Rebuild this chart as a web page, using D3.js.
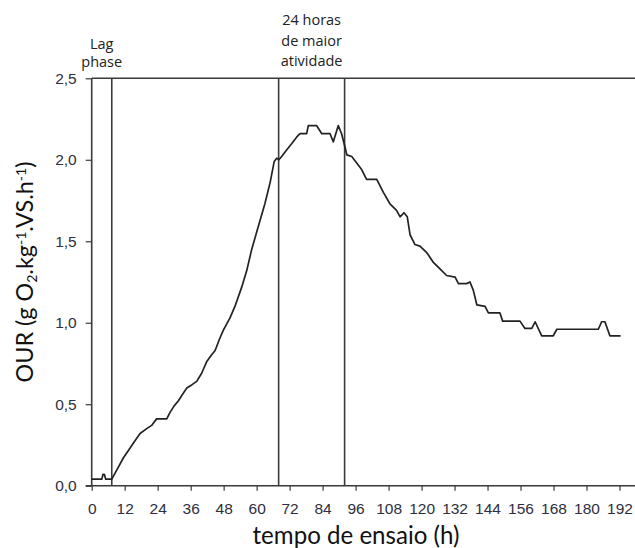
<!DOCTYPE html>
<html>
<head>
<meta charset="utf-8">
<script src="https://cdn.jsdelivr.net/npm/d3@7"></script>
<style>
  html, body { margin: 0; padding: 0; background: #fff; }
  svg { display: block; }
</style>
</head>
<body>
<svg id="chart" width="635" height="548"></svg>
<script>
// ---- data (hours, OUR) ----
const hours = [0, 3.7, 4.1, 4.6, 5.1, 7.3, 9.1, 11.5, 13.9, 15.5, 17.6, 20, 21.8, 23.6, 27.3, 28.5, 30, 31.5, 33, 34.6, 36.5, 38.2, 40, 41.8, 43.5, 44.9, 46.5, 47.9, 50.3, 52.1, 54.6, 56.4, 58.2, 60.6, 63.0, 64.9, 66.4, 67.3, 68.1, 69.1, 70.9, 72.8, 74.6, 75.8, 78.2, 78.8, 81.8, 83.7, 86.7, 87.9, 89.7, 90.9, 92.4, 92.8, 94.6, 96.4, 98.2, 100, 103.7, 106.1, 108.5, 110.9, 112.2, 113.6, 114.8, 115.8, 117.6, 119.4, 121.9, 124.3, 126.7, 129.1, 132.2, 133.4, 136.4, 137.6, 138.8, 140.1, 143.1, 144.3, 148.5, 149.5, 155.8, 157.6, 160.1, 161.3, 163.7, 167.9, 169.2, 184.3, 185.5, 186.7, 188.5, 192.4];
const our = [0.04, 0.04, 0.07, 0.07, 0.04, 0.04, 0.096, 0.17, 0.23, 0.27, 0.32, 0.35, 0.37, 0.41, 0.41, 0.45, 0.49, 0.52, 0.56, 0.60, 0.62, 0.64, 0.69, 0.76, 0.80, 0.83, 0.90, 0.955, 1.03, 1.10, 1.22, 1.32, 1.45, 1.59, 1.73, 1.86, 1.99, 2.01, 2.00, 2.02, 2.06, 2.10, 2.14, 2.16, 2.16, 2.21, 2.21, 2.16, 2.16, 2.11, 2.21, 2.16, 2.06, 2.03, 2.02, 1.98, 1.94, 1.88, 1.88, 1.80, 1.73, 1.69, 1.65, 1.675, 1.65, 1.54, 1.48, 1.47, 1.43, 1.37, 1.33, 1.29, 1.28, 1.24, 1.24, 1.25, 1.20, 1.11, 1.10, 1.06, 1.06, 1.01, 1.01, 0.965, 0.965, 1.006, 0.92, 0.92, 0.96, 0.96, 1.006, 1.006, 0.92, 0.92];
const xTicks = [0, 12, 24, 36, 48, 60, 72, 84, 96, 108, 120, 132, 144, 156, 168, 180, 192];
const yTicks = [0, 0.5, 1.0, 1.5, 2.0, 2.5];
const markerHours = [0, 7.3, 68, 92];
const lagLabel = ["Lag", "phase"];
const peakLabel = ["24 horas", "de maior", "atividade"];
const xTitle = "tempo de ensaio (h)";

// ---- layout ----
const svg = d3.select("#chart");
const W = 635;
const x = d3.scaleLinear().domain([0, 192]).range([91.7, 619.5]);
const y = d3.scaleLinear().domain([0, 2.5]).range([485.7, 78.3]);
const ink = "#3a3a3a";
const tickFont = "'Liberation Sans', Arial, sans-serif";
const annFontFam = "'Open Sans', 'Noto Sans', sans-serif";
const titleFont = "Lato, 'Open Sans', sans-serif";

// axis lines
svg.append("line").attr("x1", x(0) - 6).attr("x2", W).attr("y1", y(0)).attr("y2", y(0))
  .attr("stroke", ink).attr("stroke-width", 1.6);
svg.append("line").attr("x1", x(0)).attr("x2", W).attr("y1", y(2.5)).attr("y2", y(2.5))
  .attr("stroke", ink).attr("stroke-width", 1.6);

// vertical markers
svg.selectAll("line.marker").data(markerHours).join("line")
  .attr("class", "marker")
  .attr("x1", d => x(d)).attr("x2", d => x(d))
  .attr("y1", y(2.5)).attr("y2", y(0))
  .attr("stroke", ink).attr("stroke-width", 1.6);

// x axis
const xAxis = d3.axisBottom(x).tickValues(xTicks).tickSize(5).tickPadding(12)
  .tickFormat(d => String(d));
const gx = svg.append("g").attr("transform", `translate(0,${y(0)})`).call(xAxis);
gx.select(".domain").remove();
gx.selectAll(".tick line").attr("stroke", ink).attr("stroke-width", 1.2);
gx.selectAll(".tick text").attr("fill", "#2e2e40").attr("font-family", tickFont)
  .attr("font-size", 15.5);

// y axis
const yAxis = d3.axisLeft(y).tickValues(yTicks).tickSize(6).tickPadding(9)
  .tickFormat(d => d3.format(".1f")(d).replace(".", ","));
const gy = svg.append("g").attr("transform", `translate(${x(0)},0)`).call(yAxis);
gy.select(".domain").remove();
gy.selectAll(".tick line").attr("stroke", ink).attr("stroke-width", 1.2);
gy.selectAll(".tick text").attr("fill", "#2e2e40").attr("font-family", tickFont)
  .attr("font-size", 15.5);

// curve
const pts = hours.map((h, i) => [h, our[i]]);
svg.append("path").datum(pts)
  .attr("fill", "none").attr("stroke", "#222").attr("stroke-width", 1.7)
  .attr("stroke-linejoin", "round")
  .attr("d", d3.line().x(d => x(d[0])).y(d => y(d[1])));

// annotations
const annFont = 14.5;
svg.append("text").attr("x", (x(0) + x(7.3)) / 2).attr("y", 49)
  .attr("text-anchor", "middle").attr("font-family", annFontFam).attr("font-size", annFont)
  .attr("fill", "#222")
  .selectAll("tspan").data(lagLabel).join("tspan")
  .attr("x", (x(0) + x(7.3)) / 2).attr("dy", (d, i) => i === 0 ? 0 : 18).text(d => d);

svg.append("text").attr("x", (x(68) + x(92)) / 2).attr("y", 25)
  .attr("text-anchor", "middle").attr("font-family", annFontFam).attr("font-size", annFont)
  .attr("fill", "#222")
  .selectAll("tspan").data(peakLabel).join("tspan")
  .attr("x", (x(68) + x(92)) / 2).attr("dy", (d, i) => i === 0 ? 0 : 20.5).text(d => d);

// helper: fit a text element to a target width
function fitWidth(sel, target) {
  const fs = +sel.attr("font-size");
  const w = sel.node().getComputedTextLength();
  if (w > 0) sel.attr("font-size", (fs * target / w).toFixed(2));
}

// x title
const xt = svg.append("text").attr("x", 356).attr("y", 544).attr("text-anchor", "middle")
  .attr("font-family", titleFont).attr("font-size", 21).attr("fill", "#111")
  .text(xTitle);
fitWidth(xt, 207);

// y title with sub/superscripts
const yt = svg.append("text").attr("transform", "translate(33,272) rotate(-90)")
  .attr("text-anchor", "middle").attr("font-family", titleFont).attr("font-size", 21)
  .attr("fill", "#111");
const parts = [
  ["OUR (g O", 0], ["2", -1], [".kg", 0], ["-1", 1], [".VS.h", 0], ["-1", 1], [")", 0]
];
parts.forEach(([t, s]) => {
  const ts = yt.append("tspan").text(t);
  if (s === 1) ts.attr("font-size", "0.6em").attr("baseline-shift", "7");
  if (s === -1) ts.attr("font-size", "0.6em").attr("baseline-shift", "-4");
});
fitWidth(yt, 221);
</script>
</body>
</html>
